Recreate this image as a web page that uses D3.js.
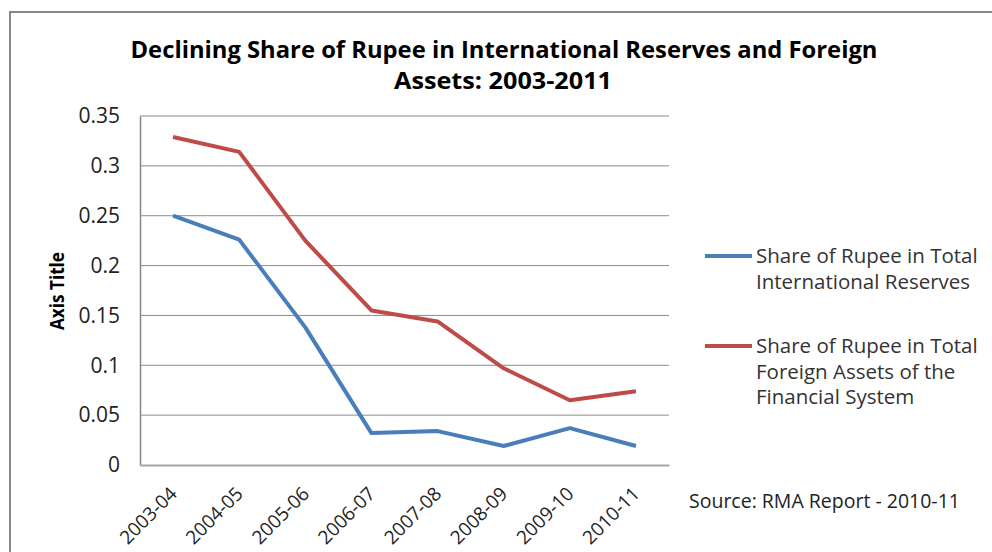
<!DOCTYPE html>
<html>
<head>
<meta charset="utf-8">
<script src="https://cdn.jsdelivr.net/npm/d3@7"></script>
<style>
  body { margin: 0; background: #fff; }
  text { font-family: "Open Sans", "Liberation Sans", sans-serif; }
</style>
</head>
<body>
<svg id="chart" width="992" height="552"></svg>
<script>
// chart data
const years = ['2003-04','2004-05','2005-06','2006-07','2007-08','2008-09','2009-10','2010-11'];
const reserves = [0.250, 0.226, 0.138, 0.032, 0.034, 0.019, 0.037, 0.019];
const foreignAssets = [0.329, 0.314, 0.225, 0.155, 0.144, 0.097, 0.065, 0.074];
const yTicks = [0, 0.05, 0.1, 0.15, 0.2, 0.25, 0.3, 0.35];
const seriesNames = [
    ['Share of Rupee in Total', 'International Reserves'],
    ['Share of Rupee in Total', 'Foreign Assets of the', 'Financial System']
];
const colors = ['#4a7ebb', '#be4b48'];

const svg = d3.select('#chart');

// outer frame (runs off the right/bottom edge)
svg.append('rect')
    .attr('x', 10).attr('y', 12)
    .attr('width', 1000).attr('height', 600)
    .attr('fill', 'none')
    .attr('stroke', '#878787')
    .attr('stroke-width', 2);

// title
const title = svg.append('text')
    .attr('text-anchor', 'middle')
    .attr('font-weight', 'bold')
    .attr('font-size', 24)
    .attr('fill', '#000');
title.append('tspan').attr('x', 504).attr('y', 58)
    .attr('textLength', 747).attr('lengthAdjust', 'spacingAndGlyphs')
    .text('Declining Share of Rupee in International Reserves and Foreign');
title.append('tspan').attr('x', 503).attr('y', 89)
    .attr('textLength', 218).attr('lengthAdjust', 'spacingAndGlyphs')
    .text('Assets: 2003-2011');

const plotLeft = 140, plotRight = 669, plotTop = 116, plotBottom = 465;

const x = d3.scaleBand().domain(years).range([plotLeft, plotRight]);
const y = d3.scaleLinear().domain([0, 0.35]).range([plotBottom, plotTop]);

// gridlines
svg.append('g')
    .selectAll('line')
    .data(yTicks.filter(d => d > 0))
    .join('line')
    .attr('x1', plotLeft).attr('x2', plotRight)
    .attr('y1', d => y(d)).attr('y2', d => y(d))
    .attr('stroke', '#8c8c8c')
    .attr('stroke-width', 1);

// y axis
const yAxis = svg.append('g')
    .attr('transform', `translate(${plotLeft},0)`)
    .call(d3.axisLeft(y).tickValues(yTicks).tickSize(0).tickPadding(20)
        .tickFormat(d => d === 0 ? '0' : String(+d.toFixed(2))));
yAxis.select('.domain').attr('stroke', '#868686').attr('stroke-width', 1.5);
yAxis.selectAll('text')
    .attr('font-size', 21)
    .attr('fill', '#222')
    .attr('font-family', '"Open Sans", sans-serif');

// x axis
const xAxis = svg.append('g')
    .attr('transform', `translate(0,${plotBottom})`)
    .call(d3.axisBottom(x).tickSize(0).tickPadding(0));
xAxis.select('.domain').attr('stroke', '#a6a6a6').attr('stroke-width', 2);
xAxis.selectAll('text')
    .attr('font-size', 19)
    .attr('fill', '#222')
    .attr('font-family', '"Open Sans", sans-serif')
    .attr('text-anchor', 'end')
    .attr('dy', 0)
    .attr('transform', 'translate(5,30) rotate(-45)');

// axis title
svg.append('text')
    .attr('transform', 'translate(64,291) rotate(-90)')
    .attr('text-anchor', 'middle')
    .attr('font-weight', 'bold')
    .attr('font-size', 19)
    .attr('textLength', 78).attr('lengthAdjust', 'spacingAndGlyphs')
    .text('Axis Title');

// lines
const line = d3.line()
    .x((d, i) => x(years[i]) + x.bandwidth() / 2)
    .y(d => y(d));

[reserves, foreignAssets].forEach((s, k) => {
    svg.append('path')
        .datum(s)
        .attr('d', line)
        .attr('fill', 'none')
        .attr('stroke', colors[k])
        .attr('stroke-width', 4)
        .attr('stroke-linejoin', 'round');
});

// legend
const legendY = [256, 346];
seriesNames.forEach((lines, k) => {
    const g = svg.append('g').attr('transform', `translate(705,${legendY[k]})`);
    g.append('line')
        .attr('x1', 0).attr('x2', 47)
        .attr('y1', 0).attr('y2', 0)
        .attr('stroke', colors[k])
        .attr('stroke-width', 4);
    const t = g.append('text')
        .attr('font-size', 20.5)
        .attr('fill', '#333');
    lines.forEach((s, i) => {
        t.append('tspan').attr('x', 51).attr('y', 7 + i * 25.5).text(s);
    });
});

// source note
svg.append('text')
    .attr('x', 689).attr('y', 508)
    .attr('font-size', 19.5)
    .attr('fill', '#222')
    .text('Source: RMA Report - 2010-11');
</script>
</body>
</html>
